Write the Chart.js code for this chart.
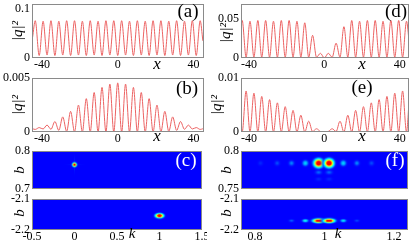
<!DOCTYPE html>
<html>
<head>
<meta charset="utf-8">
<script src="https://cdn.jsdelivr.net/npm/chart.js@4/dist/chart.umd.min.js"></script>
<style>
body { margin: 0; background: #fff; width: 415px; height: 245px; overflow: hidden; position: relative; }
canvas { position: absolute; }
</style>
</head>
<body>
<canvas id="pa" width="207" height="74" style="left:0;top:0"></canvas>
<canvas id="pd" width="208" height="74" style="left:207px;top:0"></canvas>
<canvas id="pb" width="207" height="74" style="left:0;top:70px"></canvas>
<canvas id="pe" width="208" height="74" style="left:207px;top:70px"></canvas>
<canvas id="pc1" width="207" height="52" style="left:0;top:142px"></canvas>
<canvas id="pf1" width="208" height="52" style="left:207px;top:142px"></canvas>
<canvas id="pc2" width="207" height="55" style="left:0;top:190px"></canvas>
<canvas id="pf2" width="208" height="55" style="left:207px;top:190px"></canvas>
<script>
// sample positions (x) shared by the four |q|^2 panels
const xGrid = [-45, -43.58, -41.5, -39.43, -37.35, -35.28, -33.2, -31.13, -29.05, -26.98, -24.9,
  -22.83, -20.75, -18.68, -16.6, -14.53, -12.45, -10.38, -8.3, -6.23, -4.15, -2.08, 0,
  2.08, 4.15, 6.23, 8.3, 10.38, 12.45, 14.53, 16.6, 18.68, 20.75, 22.83, 24.9, 26.98,
  29.05, 31.13, 33.2, 35.28, 37.35, 39.43, 41.5, 43.58, 45];

const aVals = [0.042, 0.076, 0.005, 0.075, 0.006, 0.076, 0.005, 0.075, 0.006, 0.076, 0.005,
  0.076, 0.006, 0.075, 0.005, 0.076, 0.006, 0.075, 0.005, 0.076, 0.006, 0.076, 0.005,
  0.076, 0.006, 0.075, 0.005, 0.076, 0.006, 0.075, 0.005, 0.076, 0.006, 0.076, 0.005,
  0.075, 0.006, 0.076, 0.005, 0.075, 0.006, 0.076, 0.005, 0.076, 0.035];

const bVals = [0.0003, 0.00024, 0.00041, 0.00028, 0.00064, 0.00025, 0.00097, 0.00015, 0.0014,
  0.00006, 0.00191, 0.00002, 0.00249, 0, 0.00309, 0, 0.00366, 0, 0.00413, 0, 0.00444, 0,
  0.00455, 0, 0.00444, 0, 0.00413, 0, 0.00366, 0, 0.00309, 0, 0.00249, 0.00002, 0.00191,
  0.00006, 0.0014, 0.00015, 0.00097, 0.00025, 0.00064, 0.00028, 0.00041, 0.00024, 0.0003];

const dVals = [0.03, 0.048, 0.001, 0.047, 0.001, 0.048, 0.001, 0.048, 0.001, 0.047, 0.001,
  0.048, 0.001, 0.048, 0.001, 0.047, 0.001, 0.045, 0.001, 0.029, 0.001, 0.006, 0,
  0.006, 0.001, 0.019, 0.001, 0.04, 0.001, 0.048, 0.001, 0.047, 0.001, 0.048, 0.001,
  0.048, 0.001, 0.047, 0.001, 0.048, 0.001, 0.048, 0.001, 0.047, 0.02];

const eVals = [0.006, 0, 0.0076, 0, 0.0072, 0, 0.0066, 0, 0.006, 0, 0.0054, 0, 0.0047, 0,
  0.004, 0, 0.0031, 0, 0.002, 0.0001, 0.0006, 0.0001, 0.00002, 0.0001, 0.0006, 0.0001,
  0.002, 0, 0.0031, 0, 0.004, 0, 0.0047, 0, 0.0054, 0, 0.006, 0, 0.0066, 0, 0.0072, 0,
  0.0076, 0, 0.006];

const xTicksQ = [-40, 0, 40];
const yTicksA = [0, 0.1];
const yTicksB = [0, 0.005];
const yTicksD = [0, 0.05];
const yTicksE = [0, 0.01];

// spectra: spot centres (k, b) and peak intensity, faint lobes first
const cTopK = [0, 0, 0], cTopB = [0.764, 0.764, 0.764], cTopI = [0.07, 0.05, 1];
const cBotK = [1], cBotB = [-2.154], cBotI = [1];
const fTopK = [0.983, 1.013, 0.983, 1.013, 0.816, 1.183, 0.864, 1.135, 0.905, 1.093, 0.945, 1.054, 0.983, 1.013];
const fTopB = [0.763, 0.763, 0.772, 0.772, 0.784, 0.784, 0.784, 0.784, 0.784, 0.784, 0.784, 0.784, 0.784, 0.784];
const fTopI = [0.07, 0.07, 0.12, 0.12, 0.07, 0.06, 0.1, 0.1, 0.14, 0.14, 0.22, 0.22, 1, 1];
const fBotK = [0.905, 1.093, 0.945, 1.054, 0.983, 1.013];
const fBotB = [-2.17, -2.17, -2.17, -2.17, -2.17, -2.17];
const fBotI = [0.12, 0.1, 0.3, 0.25, 1, 1];

const xTicksC = [-0.5, 0, 0.5, 1, 1.5];
const xTicksF = [0.8, 1, 1.2];
const yTicksC1 = [0.7, 0.8], yTicksF1 = [0.75, 0.8], yTicksLow = [-2.2, -2.1];

const SERIF = 'Liberation Serif';
const LINE = 'rgb(236,98,98)';
const BLUE = 'rgb(0,0,255)';

function jet(v) {
  const c = t => Math.round(255 * Math.max(0, Math.min(1, t)));
  return [c(1.5 - Math.abs(4 * v - 3)), c(1.5 - Math.abs(4 * v - 2)), c(1.5 - Math.abs(4 * v - 1))];
}

function spot(rx, ry, peak) {
  const w = Math.ceil(rx * 5) + 1, h = Math.ceil(ry * 5) + 1;
  const cv = document.createElement('canvas');
  cv.width = w; cv.height = h;
  const g = cv.getContext('2d');
  const img = g.createImageData(w, h);
  for (let y = 0; y < h; y++) {
    for (let x = 0; x < w; x++) {
      const dx = (x + 0.5 - w / 2) / rx, dy = (y + 0.5 - h / 2) / ry;
      const val = peak * Math.exp(-(dx * dx + dy * dy));
      const col = jet(Math.min(0.875, 0.125 + 0.95 * val));
      const i = 4 * (y * w + x);
      img.data[i] = col[0]; img.data[i + 1] = col[1]; img.data[i + 2] = col[2];
      img.data[i + 3] = Math.round(255 * Math.min(1, val * 8));
    }
  }
  g.putImageData(img, 0, 0);
  return cv;
}

const drawBits = {
  id: 'drawBits',
  beforeDatasetsDraw(chart, args, o) {
    if (!o.heat) return;
    const a = chart.chartArea, ctx = chart.ctx;
    ctx.save();
    ctx.fillStyle = BLUE;
    ctx.fillRect(a.left, a.top, a.right - a.left, a.bottom - a.top);
    ctx.restore();
  },
  afterDraw(chart, args, o) {
    const a = chart.chartArea, ctx = chart.ctx;
    ctx.save();
    ctx.strokeStyle = '#8a8a8a';
    ctx.lineWidth = 1;
    ctx.strokeRect(a.left + 0.5, a.top + 0.5, a.right - a.left - 1, a.bottom - a.top - 1);
    for (const t of o.texts || []) {
      ctx.save();
      ctx.translate(t[1], t[2]);
      if (t[4]) ctx.rotate(-Math.PI / 2);
      ctx.font = t[3];
      ctx.fillStyle = t[5] || '#000';
      ctx.textAlign = 'center';
      ctx.textBaseline = 'middle';
      ctx.fillText(t[0], 0, 0);
      ctx.restore();
    }
    ctx.restore();
  }
};

function axis(min, max, ticks, size, showLabels) {
  return {
    type: 'linear', min, max,
    grid: { display: false, drawTicks: false }, border: { display: false },
    ticks: {
      display: showLabels, color: '#000', autoSkip: false, maxRotation: 0,
      padding: ctx => (ctx.scale && ctx.scale.axis === 'x' ? 0 : 2),
      font: { family: SERIF, size: 12 }, callback: v => String(v)
    },
    afterBuildTicks: s => { s.ticks = ticks.map(v => ({ value: v })); },
    afterFit: s => {
      if (s.isHorizontal()) s.height = size; else s.width = size;
      s.paddingLeft = s.paddingRight = s.paddingTop = s.paddingBottom = 0;
    }
  };
}

function make(id, datasets, xs, ys, pad, texts, heat) {
  xs.ticks.padding = 0;
  return new Chart(document.getElementById(id), {
    type: 'line',
    data: { datasets },
    options: {
      responsive: false, animation: false, events: [],
      layout: { padding: pad },
      scales: { x: xs, y: ys },
      plugins: { legend: { display: false }, tooltip: { enabled: false }, drawBits: { texts, heat } }
    },
    plugins: [drawBits]
  });
}

function curve(vals) {
  return [{
    data: xGrid.map((x, i) => ({ x, y: vals[i] })),
    borderColor: LINE, borderWidth: 1, pointRadius: 0, fill: false,
    cubicInterpolationMode: 'monotone'
  }];
}

function spots(K, B, I, rx, ry) {
  const imgs = K.map((k, i) => spot(rx[i], ry[i], I[i]));
  return [{
    type: 'scatter',
    data: K.map((k, i) => ({ x: k, y: B[i] })),
    pointStyle: c => imgs[c.dataIndex],
    pointRadius: 3, showLine: false
  }];
}

const titleF = 'italic 17px ' + SERIF;
const qF = 'italic 15px ' + SERIF;
const panelF = '19px ' + SERIF;

make('pa', curve(aVals), axis(-45.3, 45.6, xTicksQ, 16, true), axis(0, 0.11, yTicksA, 32, true),
  { left: 0, right: 3, top: 4, bottom: 0 },
  [['|q|²', 18, 31, qF, true], ['x', 157, 65, titleF], ['(a)', 188, 12, panelF]]);

make('pd', curve(dVals), axis(-44.2, 44.9, xTicksQ, 16, true), axis(0, 0.069, yTicksD, 34, true),
  { left: 0, right: 6, top: 4, bottom: 0 },
  [['|q|²', 19, 33, qF, true], ['x', 155, 65, titleF], ['(d)', 189, 12, panelF]]);

make('pb', curve(bVals), axis(-45.3, 45.6, xTicksQ, 12, true), axis(0, 0.005, yTicksB, 32, true),
  { left: 0, right: 3, top: 8, bottom: 0 },
  [['|q|²', 18, 35, qF, true], ['x', 157, 67, titleF], ['(b)', 187, 19, panelF]]);

make('pe', curve(eVals), axis(-44.2, 44.9, xTicksQ, 12, true), axis(0, 0.01, yTicksE, 34, true),
  { left: 0, right: 6, top: 8, bottom: 0 },
  [['|q|²', 10, 35, qF, true], ['x', 155, 67, titleF], ['(e)', 155, 18, panelF]]);

make('pc1', spots(cTopK, cTopB, cTopI, [0.7, 9, 1.8], [9, 0.7, 1.8]),
  axis(-0.5, 1.5, xTicksC, 4, false), axis(0.7, 0.8, yTicksC1, 32, true),
  { left: 0, right: 5, top: 9, bottom: 0 },
  [['b', 20, 28, qF, true], ['(c)', 186, 19, panelF, false, '#fff']], true);

make('pf1', spots(fTopK, fTopB, fTopI, [4, 4, 4, 4, 3, 3, 3, 3, 3, 3, 3, 3, 4.2, 4.2], [2.5, 2.5, 2.5, 2.5, 3, 3, 3, 3, 3, 3, 3, 3, 3.8, 3.8]),
  axis(0.76, 1.24, xTicksF, 4, false), axis(0.75, 0.8, yTicksF1, 34, true),
  { left: 0, right: 7, top: 9, bottom: 0 },
  [['b', 20, 28, qF, true], ['(f)', 188, 19, panelF, false, '#fff']], true);

make('pc2', spots(cBotK, cBotB, cBotI, [3.6], [2]),
  axis(-0.5, 1.5, xTicksC, 15, true), axis(-2.2, -2.1, yTicksLow, 32, true),
  { left: 0, right: 5, top: 9, bottom: 0 },
  [['b', 20, 23, qF, true], ['k', 132, 44, qF]], true);

make('pf2', spots(fBotK, fBotB, fBotI, [3, 3, 3, 3, 5, 5], [1.5, 1.5, 1.5, 1.5, 1.8, 1.8]),
  axis(0.76, 1.24, xTicksF, 15, true), axis(-2.2, -2.1, yTicksLow, 34, true),
  { left: 0, right: 7, top: 9, bottom: 0 },
  [['b', 20, 23, qF, true], ['k', 131, 44, qF]], true);
</script>
</body>
</html>
